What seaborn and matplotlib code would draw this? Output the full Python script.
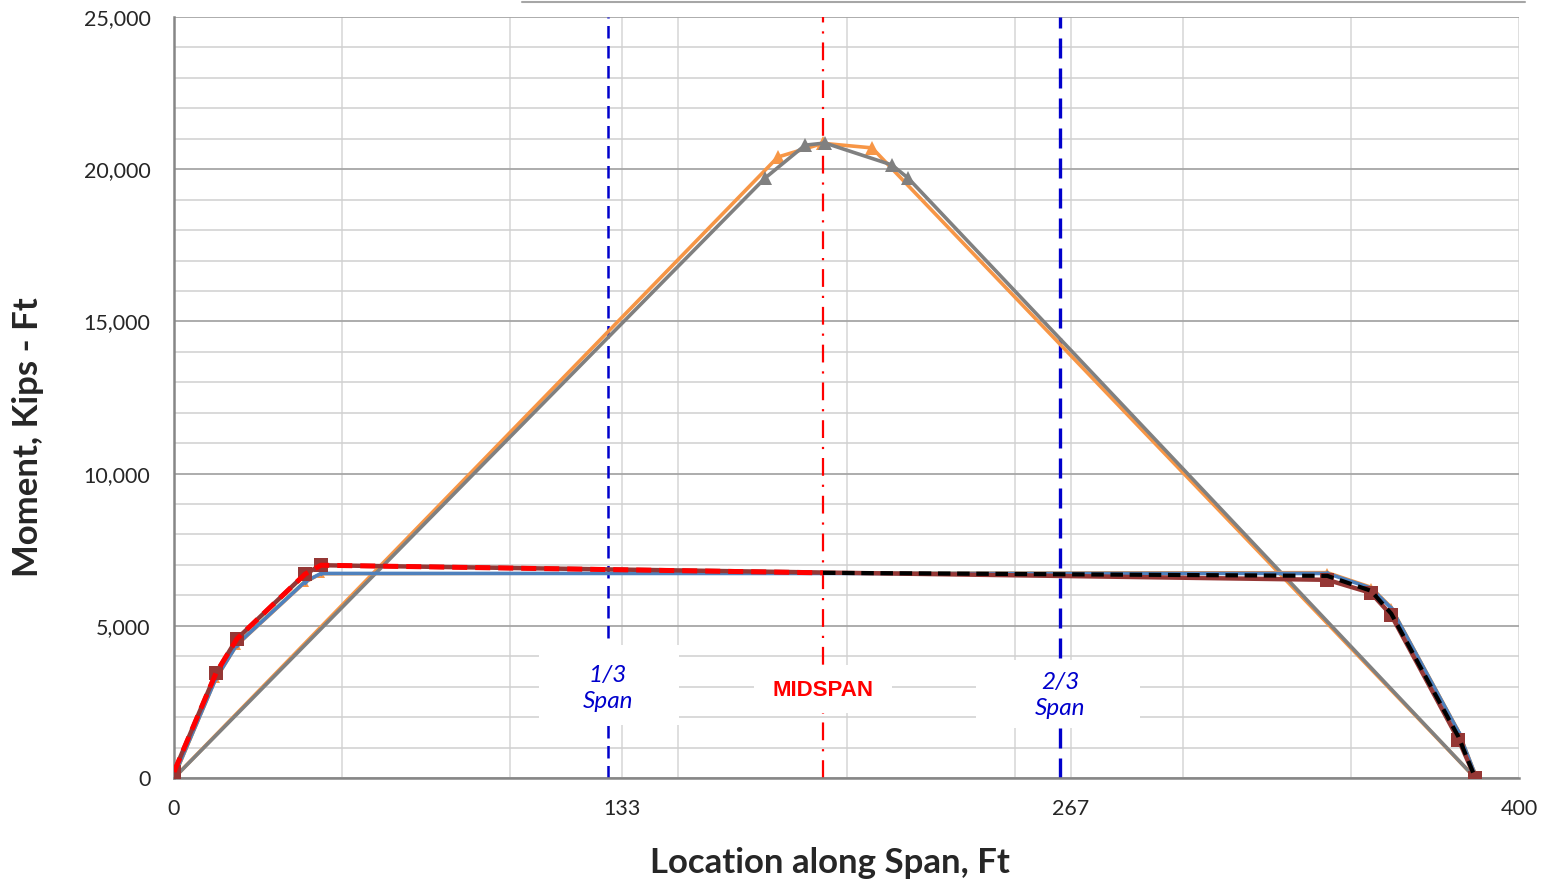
import numpy as np
import pandas as pd
import matplotlib
matplotlib.use("Agg")
import matplotlib.pyplot as plt
import seaborn as sns
from matplotlib.lines import Line2D
from matplotlib.patches import Rectangle
from matplotlib.ticker import FixedLocator, MultipleLocator, FuncFormatter

# ==========================================
# data
# ==========================================
# plateau group: points along the span, ft
x_pl = [0, 12.5, 18.7, 39.0, 43.7, 343.0, 356.0, 362.0, 382.0, 387.0]
m_darkred = [200, 3450, 4570, 6700, 6990, 6510, 6080, 5350, 1260, 0]
m_blue = [60, 3280, 4380, 6450, 6720, 6720, 6240, 5580, 1520, 100]
m_orange_s = [0, 3250, 4350, 6420, 6700, 6760, 6280, 5620, 1560, 150]
m_green_s = [0, 3300, 4400, 6480, 6710, 6740, 6250, 5600, 1530, 120]

# envelope, left half (red dashed) and right half (black dashed)
x_left = [0, 12.5, 18.7, 39.0, 43.7, 193.0]
m_left = [200, 3450, 4570, 6700, 6990, 6740]
x_right = [193.0, 343.0, 356.0, 362.0, 382.0, 387.0]
m_right = [6740, 6640, 6150, 5400, 1350, 0]

# triangular group
x_tri_orange = [0, 179.6, 193.0, 207.6, 387.0]
m_tri_orange = [0, 20400, 20850, 20700, 0]
x_tri_grey = [0, 175.8, 187.7, 193.6, 213.5, 218.3, 387.0]
m_tri_grey = [0, 19710, 20790, 20860, 20140, 19710, 0]

# reference lines
x_third = 129.0
x_mid = 193.0
x_two_third = 263.5

x_ticks = [0, 400 / 3, 800 / 3, 400]
x_ticklabels = ["0", "133", "267", "400"]

# ==========================================
# style
# ==========================================
sns.set_style("white")
plt.rcParams["font.family"] = ["Lato", "DejaVu Sans"]

fig = plt.figure(figsize=(15.48, 8.84), dpi=100)
ax = fig.add_axes([174 / 1548, 1 - 778 / 884, 1345 / 1548, 761 / 884])

# ==========================================
# series
# ==========================================
sns.lineplot(x=x_tri_orange, y=m_tri_orange, sort=False, color="#F79646", lw=2.6,
             marker="^", markersize=10, markeredgewidth=0, ax=ax, zorder=3)
sns.lineplot(x=x_tri_grey, y=m_tri_grey, sort=False, color="#808080", lw=2.6,
             marker="^", markersize=10, markeredgewidth=0, ax=ax, zorder=3)

sns.lineplot(x=x_pl, y=m_green_s, sort=False, color="#9BBB59", lw=2,
             marker="x", markersize=4, ax=ax, zorder=4)
sns.lineplot(x=x_pl, y=m_orange_s, sort=False, color="#F79646", lw=2,
             marker="^", markersize=6, markeredgewidth=0, ax=ax, zorder=4)
sns.lineplot(x=x_pl, y=m_blue, sort=False, color="#4F81BD", lw=2.6,
             marker="D", markersize=3, markeredgewidth=0, ax=ax, zorder=4)
sns.lineplot(x=x_pl, y=m_darkred, sort=False, color="#953735", lw=3.2,
             marker="s", markersize=10, markeredgewidth=0, ax=ax, zorder=5)

sns.lineplot(x=x_left, y=m_left, sort=False, color="#FF0000", lw=3.6,
             ax=ax, zorder=6)
ax.lines[-1].set_dashes([3, 1.6])
sns.lineplot(x=x_right, y=m_right, sort=False, color="#000000", lw=3.0,
             ax=ax, zorder=6)
ax.lines[-1].set_dashes([3, 1.6])

# vertical reference lines
ax.axvline(x_third, color="#0000CC", lw=1.8, dashes=(5, 3), zorder=2)
ax.axvline(x_mid, color="#FF0000", lw=1.6, dashes=(8, 4, 1, 4), zorder=2)
ax.axvline(x_two_third, color="#0000CC", lw=2.4, dashes=(6, 3), zorder=2)

# white label boxes
for (x0, x1, y0, y1) in [(108.6, 150.2, 1740, 4370),
                         (172.5, 213.5, 2150, 3700),
                         (238.5, 287.3, 1640, 3880)]:
    ax.add_patch(Rectangle((x0, y0), x1 - x0, y1 - y0, facecolor="white",
                           edgecolor="none", zorder=2.5))

ax.text(x_third, 2950, "1/3\nSpan", color="#0000CC", style="italic",
        fontsize=17.5, ha="center", va="center", linespacing=1.3, zorder=7)
ax.text(x_mid, 2890, "MIDSPAN", color="#FF0000", fontweight="bold",
        family=["Liberation Sans", "DejaVu Sans"],
        fontsize=16, ha="center", va="center", zorder=7)
ax.text(x_two_third, 2720, "2/3\nSpan", color="#0000CC", style="italic",
        fontsize=17.5, ha="center", va="center", linespacing=1.3, zorder=7)

# ==========================================
# axes, grid
# ==========================================
ax.set_xlim(0, 400)
ax.set_ylim(0, 25000)
ax.xaxis.set_major_locator(FixedLocator(x_ticks))
ax.set_xticklabels(x_ticklabels)
ax.xaxis.set_minor_locator(MultipleLocator(50))
ax.yaxis.set_major_locator(MultipleLocator(5000))
ax.yaxis.set_minor_locator(MultipleLocator(1000))
ax.yaxis.set_major_formatter(FuncFormatter(lambda v, p: f"{int(v):,}"))

ax.grid(which="major", axis="y", color="#A6A6A6", lw=1.3, zorder=0)
ax.grid(which="minor", axis="y", color="#D0D0D0", lw=1.1, zorder=0)
ax.grid(which="both", axis="x", color="#D6D6D6", lw=1.1, zorder=0)
ax.set_axisbelow(True)

for side in ["top", "right"]:
    ax.spines[side].set_visible(False)
for side in ["left", "bottom"]:
    ax.spines[side].set_color("#868686")
    ax.spines[side].set_linewidth(1.8)

ax.tick_params(which="major", axis="y", direction="out", length=6, width=1.3,
               color="#868686", labelsize=15.5, pad=11)
ax.tick_params(which="major", axis="x", direction="out", length=6, width=1.1,
               color="#D0D0D0", labelsize=15.5, pad=9)
ax.tick_params(which="minor", length=0)

ax.set_xlabel("Location along Span, Ft", fontsize=25, fontweight="bold")
ax.set_ylabel("Moment, Kips - Ft", fontsize=25, fontweight="bold")
ax.xaxis.set_label_coords(0.4877, -0.091)
ax.yaxis.set_label_coords(-0.097, 0.448)

# thin grey line at the very top (edge of a box above the chart)
fig.add_artist(Line2D([522 / 1548, 1525 / 1548], [1 - 1.5 / 884] * 2,
                      color="#A6A6A6", lw=1.5))

fig.savefig("out.png", dpi=100)
plt.close(fig)
